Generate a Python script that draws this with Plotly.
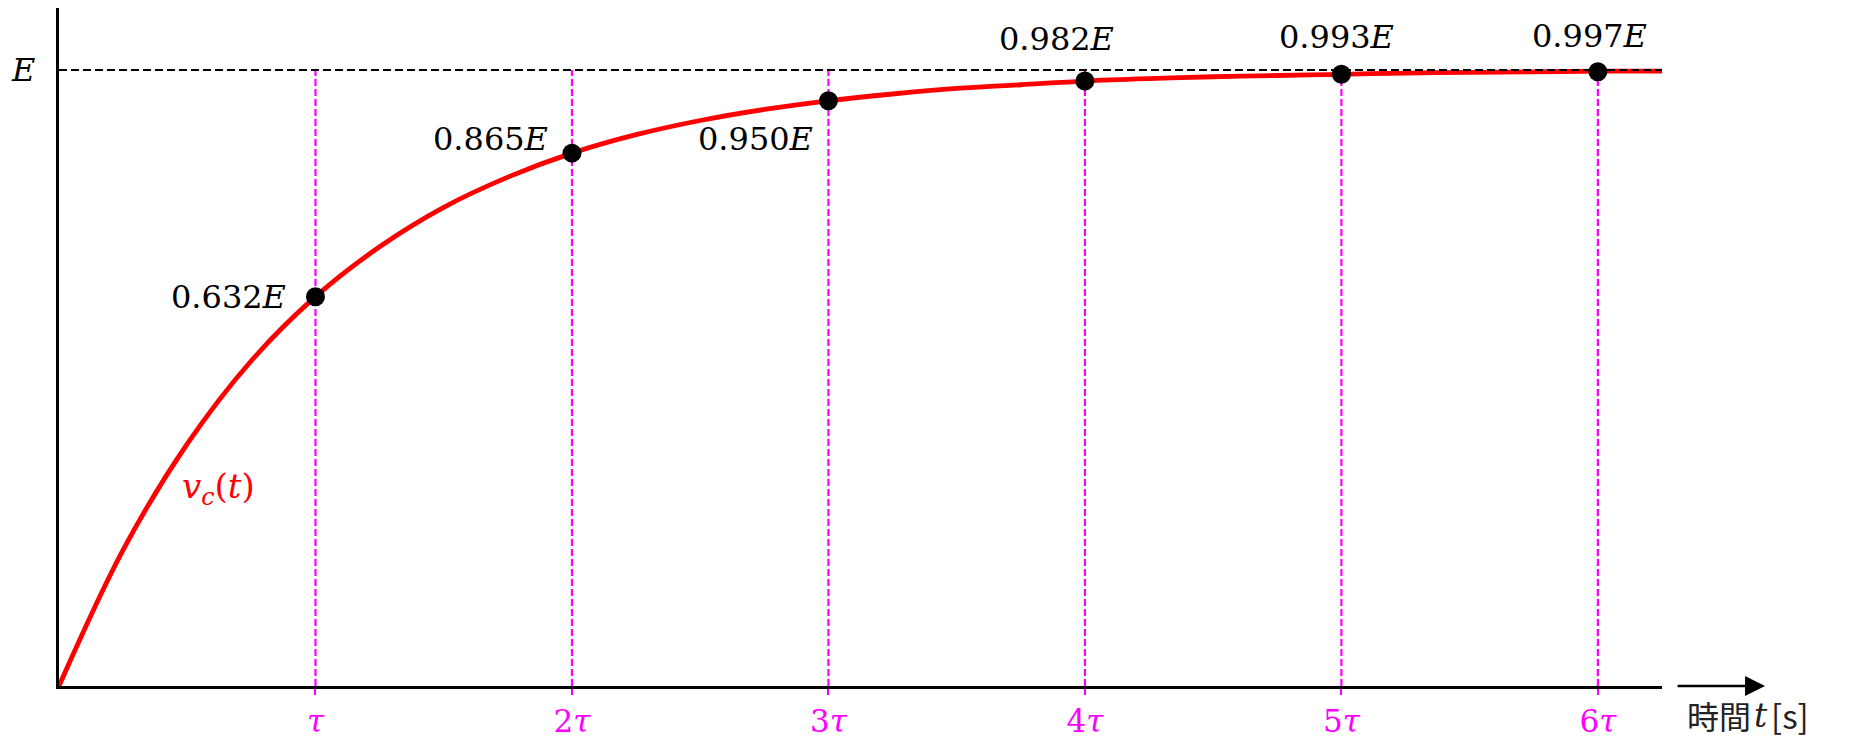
import plotly.graph_objects as go

# Curve samples (t in units of tau, v in units of E)
curve_t = [0, 0.25, 0.5, 0.75, 1, 1.25, 1.5, 1.75, 2, 2.25, 2.5, 2.75, 3, 3.25,
           3.5, 3.75, 4, 4.25, 4.5, 4.75, 5, 5.25, 5.5, 5.75, 6, 6.25]
curve_v = [0, 0.221, 0.393, 0.528, 0.632, 0.713, 0.777, 0.826, 0.865, 0.895,
           0.918, 0.936, 0.950, 0.961, 0.970, 0.976, 0.982, 0.986, 0.989, 0.991,
           0.993, 0.995, 0.996, 0.997, 0.998, 0.998]

# Marked points
point_t = [1, 2, 3, 4, 5, 6]
point_v = [0.632, 0.865, 0.950, 0.982, 0.993, 0.997]
point_labels = ["0.632", "0.865", "0.950", "0.982", "0.993", "0.997"]

tick_vals = [1, 2, 3, 4, 5, 6]
tick_text = ["<i>τ</i>", "2<i>τ</i>", "3<i>τ</i>", "4<i>τ</i>", "5<i>τ</i>", "6<i>τ</i>"]

E_level = 1.0
T_MAX = 6.25
Y_MAX = 1.1006

SERIF = "DejaVu Serif"
CJK = "Noto Sans CJK JP"
MAGENTA = "#ff00ff"

fig = go.Figure()

# magenta dashed guide lines
gx, gy = [], []
for t in point_t:
    gx += [t, t, None]
    gy += [0, E_level, None]
fig.add_trace(go.Scatter(x=gx, y=gy, mode="lines",
                         line=dict(color=MAGENTA, width=2.2, dash="7px,3px"),
                         hoverinfo="skip", showlegend=False))

# red response curve
fig.add_trace(go.Scatter(x=curve_t, y=curve_v, mode="lines",
                         line=dict(color="#ff0000", width=4.8, shape="spline"),
                         showlegend=False))

# E dashed level
fig.add_trace(go.Scatter(x=[0, T_MAX], y=[E_level, E_level], mode="lines",
                         line=dict(color="black", width=2, dash="8px,4px"),
                         hoverinfo="skip", showlegend=False))

# dots
fig.add_trace(go.Scatter(x=point_t, y=point_v, mode="markers",
                         marker=dict(color="black", size=19),
                         cliponaxis=False, showlegend=False))

# point labels: (xanchor, xshift, yshift)
label_pos = [("right", -27, 0), ("right", -22, 14), ("right", -13, -38),
             ("center", -28, 42), ("center", -5, 37), ("center", -8, 36)]
for t, v, lab, (xa, xs, ys) in zip(point_t, point_v, point_labels, label_pos):
    fig.add_annotation(x=t, y=v, xref="x", yref="y", text=lab + "<i>E</i>",
                       showarrow=False, xanchor=xa, yanchor="middle",
                       xshift=xs, yshift=ys,
                       font=dict(family=SERIF, size=32, color="black"))

# E label on y axis
fig.add_annotation(x=0, y=E_level, xref="x", yref="y", text="<i>E</i>",
                   showarrow=False, xanchor="center", yanchor="middle",
                   xshift=-36, font=dict(family=SERIF, size=32, color="black"))

# v_c(t) label
fig.add_annotation(x=0.62, y=0.321, xref="x", yref="y",
                   text="<i>v</i><sub><i>c</i></sub>(<i>t</i>)",
                   showarrow=False, xanchor="center", yanchor="middle",
                   font=dict(family=SERIF, size=34, color="#ff0000"))

# time arrow
fig.add_annotation(x=1.0643, y=0, xref="paper", yref="paper",
                   ax=-89, ay=0, axref="pixel", ayref="pixel",
                   text="", showarrow=True, arrowhead=2, arrowsize=1.6,
                   arrowwidth=2.5, arrowcolor="black")

# axis title: 時間 t [s]
fig.add_annotation(x=1.0568, y=0, xref="paper", yref="paper", text="時間",
                   showarrow=False, xanchor="right", yanchor="middle", yshift=-29,
                   font=dict(family=CJK, size=32, color="#222222"))
fig.add_annotation(x=1.0568, y=0, xref="paper", yref="paper", text="<i>t</i>",
                   showarrow=False, xanchor="left", yanchor="middle", yshift=-29,
                   xshift=-1, font=dict(family=SERIF, size=33, color="#222222"))
fig.add_annotation(x=1.0668, y=0, xref="paper", yref="paper", text="[s]",
                   showarrow=False, xanchor="left", yanchor="middle", yshift=-29,
                   font=dict(family=CJK, size=33, color="#222222"))

fig.update_xaxes(range=[0, T_MAX], showgrid=False, zeroline=False,
                 showline=True, linecolor="black", linewidth=3,
                 tickvals=tick_vals, ticktext=tick_text,
                 ticks="outside", ticklen=6, tickwidth=2, tickcolor=MAGENTA,
                 tickfont=dict(family=SERIF, size=31, color=MAGENTA))
fig.update_yaxes(range=[0, Y_MAX], showgrid=False, zeroline=False,
                 showline=True, linecolor="black", linewidth=3,
                 showticklabels=False, ticks="")

# page body adds an 8px offset, so the figure is 8px smaller and shifted
fig.update_layout(width=1843, height=732,
                  margin=dict(l=51, r=189, t=0, b=54, pad=0),
                  plot_bgcolor="white", paper_bgcolor="white",
                  showlegend=False)

fig.write_html("out.html")
